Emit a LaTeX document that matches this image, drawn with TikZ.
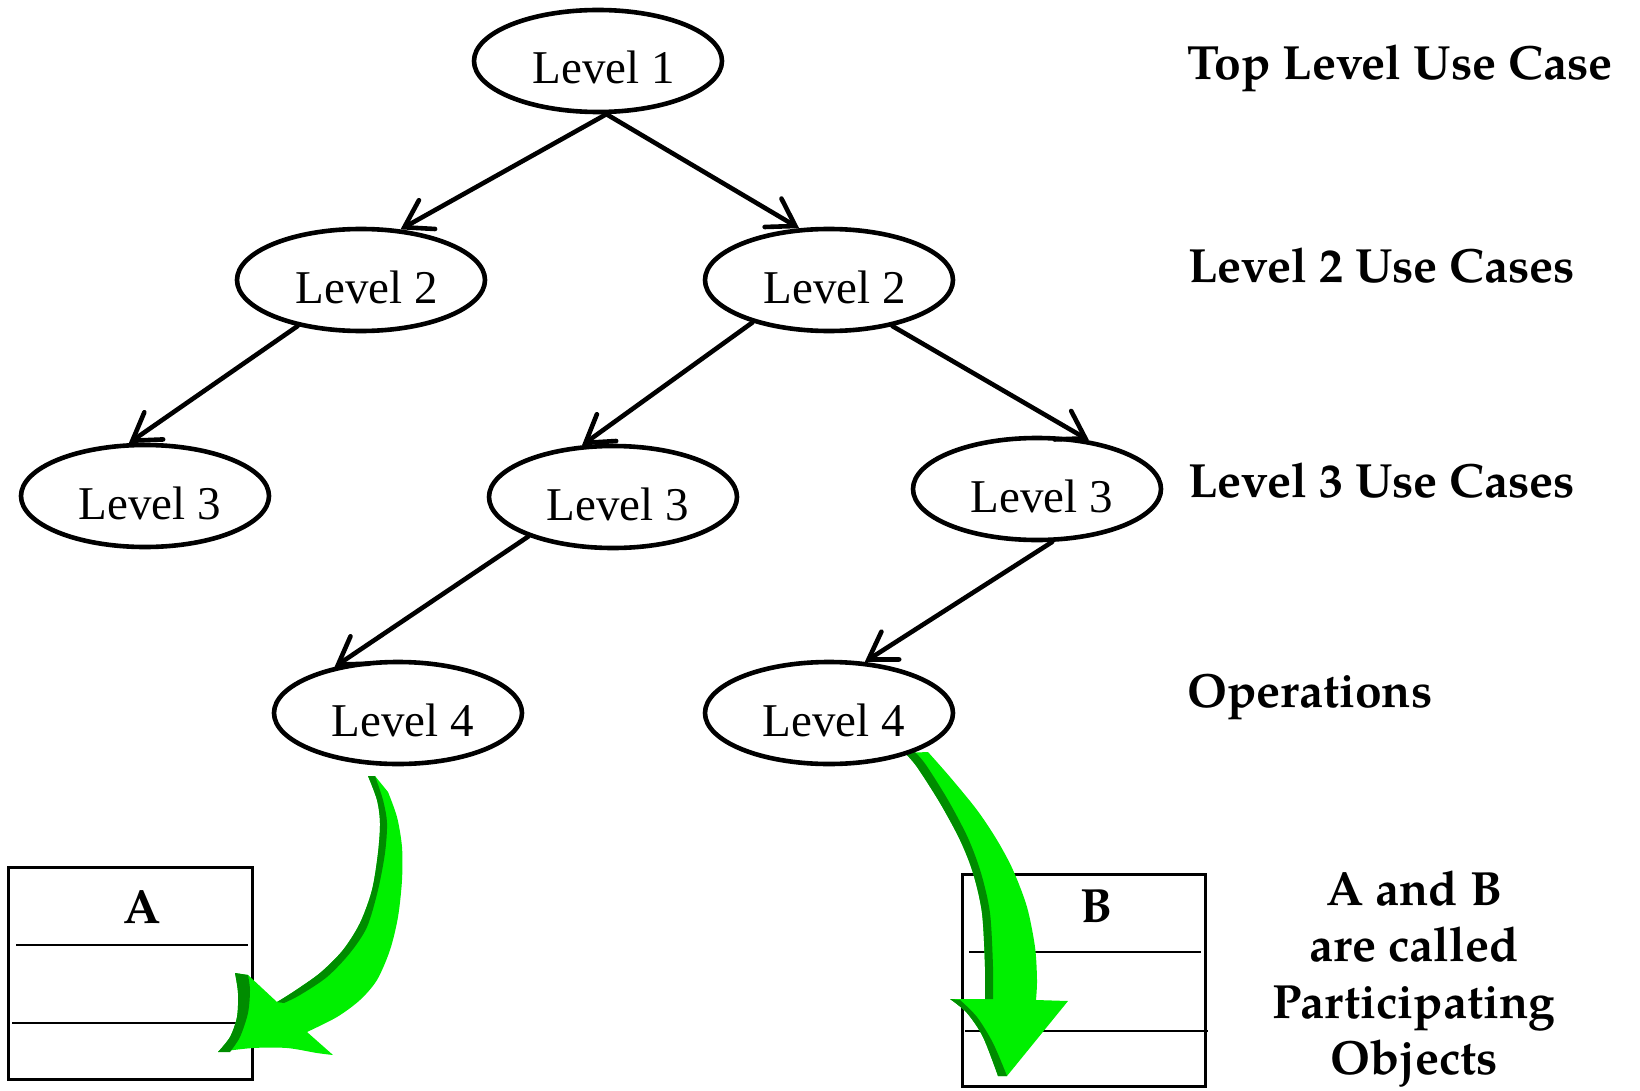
\documentclass[tikz,border=0pt]{standalone}
\usepackage{fontspec}
\setmainfont{Liberation Serif}
\newfontfamily\pal{TeX Gyre Pagella}
\usetikzlibrary{shapes.geometric,arrows.meta}
\definecolor{gbright}{RGB}{0,240,0}
\definecolor{gdark}{RGB}{0,140,0}
\begin{document}
\begin{tikzpicture}[x=1pt,y=-1pt,
  uc/.style={ellipse, draw, line width=4.6pt, minimum width=248pt, minimum height=102pt, inner sep=0pt,
     font=\fontsize{47}{50}\selectfont, text height=46pt, text depth=0pt},
  conn/.style={line width=4.6pt, line cap=round, -{Straight Barb[length=26pt,width=33pt,line cap=round]}},
  lbl/.style={font=\pal\bfseries\fontsize{48}{56}\selectfont, anchor=base west, inner sep=0pt},
  objl/.style={font=\pal\bfseries\fontsize{48}{56}\selectfont, anchor=base, inner sep=0pt},
  classbox/.style={draw, line width=3pt, inner sep=0pt},
  sep/.style={line width=2.6pt}]
\useasboundingbox (0,0) rectangle (1640,1091);

% class boxes
\node[classbox, minimum width=244pt, minimum height=212pt] (boxA) at (130,973) {};
\draw[sep] (16,945) -- (248,945);
\draw[sep] (12,1023) -- (248,1023);
\node[objl] (nA) at (142,923) {A};

\node[classbox, minimum width=243pt, minimum height=212pt] (boxB) at (1083.5,980) {};
\draw[sep] (969,952) -- (1201,952);
\draw[sep] (965,1031) -- (1208,1031);
\node[objl] (nB) at (1096,922) {B};

% green arrow A
\fill[gbright] (368,776) -- (375,776) -- (388,792)
  -- plot[smooth] coordinates {(388,792) (397,817) (402,847) (402,880) (398,917) (390,950) (377,980) (360,1000) (337,1017) (307,1032)}
  -- (333,1055)
  -- plot[smooth] coordinates {(333,1055) (317,1053) (287,1048) (253,1048) (218,1052)}
  -- plot[smooth] coordinates {(218,1052) (230,1037) (237,1017) (238,993) (235,973)}
  -- (248,975) -- (277,1002)
  -- plot[smooth] coordinates {(277,1002) (293,992) (320,973) (343,950) (360,923) (372,890) (378,853) (380,823) (377,800) (368,776)}
  -- cycle;
\fill[gdark] plot[smooth] coordinates {(368,776) (377,800) (380,823) (378,853) (372,890) (360,923) (343,950) (320,973) (293,992) (277,1002)}
  -- plot[smooth] coordinates {(284,1003) (300,995) (327,977) (350,953) (367,927) (378,890) (385,853) (387,823) (383,800) (375,776)} -- cycle;
\fill[gdark] (235,973) -- (248,975)
  -- plot[smooth] coordinates {(248,975) (250,990) (248,1013) (240,1037) (230,1052)}
  -- (218,1052)
  -- plot[smooth] coordinates {(218,1052) (230,1037) (237,1017) (238,993) (235,973)} -- cycle;

% green arrow B
\fill[gbright] (905,753) -- (928,752)
  -- plot[smooth] coordinates {(928,752) (950,777) (977,810) (997,840) (1013,870) (1027,907) (1035,947) (1037,980) (1036,1000)}
  -- (1068,1001) -- (1007,1076) -- (998,1076)
  -- plot[smooth] coordinates {(998,1076) (983,1037) (967,1013) (950,999)}
  -- (985,999)
  -- plot[smooth] coordinates {(985,999) (985,967) (982,913) (973,873) (960,840) (940,803) (917,767) (905,753)}
  -- cycle;
\fill[gdark] plot[smooth] coordinates {(905,753) (917,767) (940,803) (960,840) (973,873) (982,913) (985,967) (985,999)}
  -- (993,999)
  -- plot[smooth] coordinates {(993,999) (993,967) (990,913) (981,873) (968,838) (948,800) (926,765) (915,752)} -- cycle;
\fill[gdark] (950,999) -- (960,1000)
  -- plot[smooth] coordinates {(960,1000) (977,1017) (993,1043) (1007,1076)}
  -- (998,1076)
  -- plot[smooth] coordinates {(998,1076) (983,1037) (967,1013) (950,999)} -- cycle;

% use case ellipses
\node[uc] (l1)  at (598,61)  {\kern12pt Level 1};
\node[uc] (l2a) at (361,280) {\kern12pt Level 2};
\node[uc] (l2b) at (829,280) {\kern12pt Level 2};
\node[uc] (l3a) at (145,496) {\kern10pt Level 3};
\node[uc] (l3b) at (613,497) {\kern10pt Level 3};
\node[uc] (l3c) at (1037,489) {\kern10pt Level 3};
\node[uc] (l4a) at (398,713) {\kern10pt Level 4};
\node[uc] (l4b) at (829,713) {\kern10pt Level 4};

% connectors
\draw[conn] (l1.-81) -- (l2a.52);
\draw[conn] (l1.-81) -- (l2b.120);
\draw[conn] (l2a.216) -- (l3a.107);
\draw[conn] (l2b.209) -- (l3b.121);
\draw[conn] (l2b.-36) -- (l3c.43);
\draw[conn] (l3b.205) -- (l4a.144);
\draw[conn] (l3c.-74) -- (l4b.55);

% level labels
\node[lbl] (t1) at (1187,80)  {Top Level Use Case};
\node[lbl] (t2) at (1188,283) {Level 2 Use Cases};
\node[lbl] (t3) at (1188,497) {Level 3 Use Cases};
\node[lbl] (t4) at (1187,707) {Operations};

\node[objl] (o1) at (1414,905)  {A and B};
\node[objl] (o2) at (1414,961)  {are called};
\node[objl] (o3) at (1414,1018) {Participating};
\node[objl] (o4) at (1414,1074) {Objects};
\end{tikzpicture}
\end{document}
